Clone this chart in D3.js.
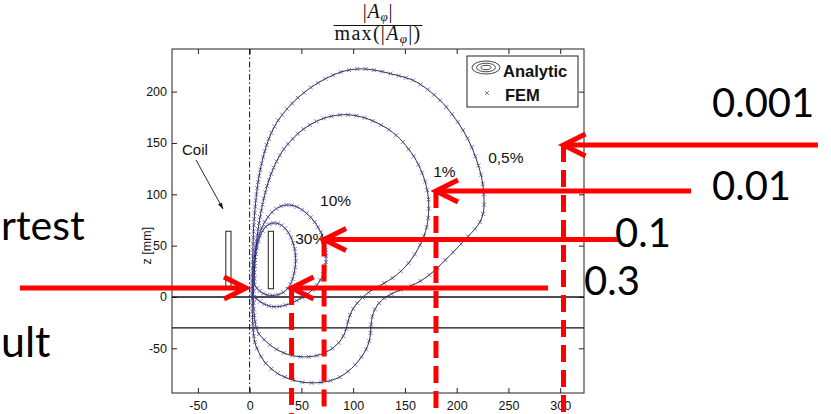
<!DOCTYPE html>
<html>
<head>
<meta charset="utf-8">
<script src="https://cdn.jsdelivr.net/npm/d3@7"></script>
<style>
  body { margin: 0; background: #fff; }
  svg { display: block; }
</style>
</head>
<body>
<svg id="fig" width="831" height="414"></svg>
<script>
// ---- data: contour points [r mm, z mm] of |A_phi| / max(|A_phi|) ----
// analytic contours and FEM nodes coincide, so each list feeds both
const level30 = [[4.8,12],[4.6,18],[4.6,24],[4.8,30],[5.2,36],[5.9,42],[6.9,48],[8.3,54],[10.2,59.5],[12.6,64.5],[15.6,68.5],[19.2,71],[23,72],[27,71.6],[30.8,69.8],[34.3,66.8],[37.4,62.8],[40,58],[42,52.6],[43.5,46.8],[44.3,40.8],[44.5,34.8],[44,28.8],[43,23],[41.5,17.5],[39.5,12.5],[36.5,8],[32.5,4.5],[27.5,2.3],[22,1.5],[17,2],[13,3.5],[9.6,5.8],[7,8.5]];
const level10 = [[2.8,2],[2.8,8],[3,14],[3.2,20],[3.5,26],[3.9,32],[4.5,38],[5.3,44],[6.4,50],[7.8,56],[9.6,62],[11.8,67.5],[14.5,73],[17.8,78],[21.5,82.5],[25.8,86],[30.5,88.5],[35.5,89.6],[40.5,89.3],[45.5,87.8],[50.5,85],[55,81.5],[59,77.5],[62.8,73],[66,68],[68.8,63],[71,57.5],[72.5,52],[73.5,46],[73.9,40],[73.7,34],[72.8,28],[71,22],[68.3,16.5],[64.8,11.5],[60.6,7],[56,3],[51,-0.5],[45.5,-3.5],[40,-6],[34.5,-8],[29,-9.2],[23.5,-9.5],[18.5,-8.6],[14,-6.8],[10,-4.5],[6.8,-2],[4.5,0]];
const level1 = [[9,-36],[6.5,-30],[5.2,-24],[4.5,-18],[4,-12],[3.8,-6],[3.7,0],[3.7,6],[3.8,12],[4,18],[4.3,24],[4.7,30],[5.1,36],[5.6,42],[6.1,48],[6.7,54],[7.4,60],[8.2,66],[9.1,72],[10.1,78],[11.2,84],[12.4,90],[13.7,96],[15.2,102],[16.8,108],[18.7,114],[20.8,120],[23.2,126],[26,132],[29.2,138],[33,144],[37,149],[41.5,154],[46.5,159],[52,163.5],[58,167.5],[64.5,171],[71.5,174],[79,176],[87,177.3],[95,177.5],[103,176.5],[111,174.5],[119,171.5],[127,167.5],[134.5,163],[141.5,157.5],[148,151],[153.5,144],[158.5,137],[163,129],[166.5,121],[169.5,112.5],[171.5,104],[172.8,95],[173,86],[172.5,77],[171,68],[168.5,59.5],[164.5,50.5],[159.5,41.5],[153.5,33],[146,25],[138,18.5],[130,13.5],[122,9],[115,4.5],[109,-0.5],[104,-6],[100,-11.5],[97,-17.5],[95,-24],[93.3,-31],[90.5,-38],[86,-44.5],[80,-50],[73,-54],[65,-57],[57,-58.2],[49,-58.2],[41,-57],[33,-54.5],[26,-51],[19.5,-46.5],[14,-41.5]];
const level05 = [[7,-50],[5,-44],[4,-38],[3.4,-32],[3,-26],[2.8,-20],[2.6,-14],[2.5,-8],[2.5,-2],[2.5,4],[2.5,10],[2.6,16],[2.6,22],[2.8,28],[2.9,34],[3,40],[3.2,46],[3.3,52],[3.5,58],[3.7,64],[4,70],[4.4,76],[4.9,82],[5.4,88],[6,94],[6.6,100],[7.3,106],[8.2,112],[9.2,118],[10.3,124],[11.6,130],[13,136],[14.6,142],[16.4,148],[18.5,154],[21,160],[24,166],[27.5,172],[31.5,177.5],[36,183],[41,188.5],[46.5,194],[52.5,199],[59,204],[66,208.5],[73,212.5],[80.5,216],[88,219],[96,221],[104,222],[112,222],[120,221],[128,219.5],[136,217.5],[144,215.5],[151,213.5],[158,211],[165,207],[172,202],[178,197],[184,191.5],[190,185],[195.5,178],[201,170.5],[206,162.5],[210.5,154.5],[214.5,146],[218,137],[221,128],[223.5,119],[225.2,110],[226.2,100],[226.5,90],[225.5,81],[222.5,73],[217.5,66],[211,59],[204,51.5],[196.5,43.5],[189,36],[181.5,28.5],[173.5,21.5],[165,15.5],[156,11],[146,7],[137,3],[130,-1],[125,-6],[121,-12],[118.5,-19],[117.3,-27],[116.8,-35],[115.5,-43],[112.5,-51],[108,-58.5],[102,-66],[95,-72.5],[87,-78],[78,-81.5],[69,-83.2],[60,-83.6],[51,-83],[42,-81],[34,-78],[27,-74.5],[21,-70],[15.5,-64.5],[11,-58]];

const levelNames = ["30%", "10%", "1%", "0,5%"];
const levelPts = [level30, level10, level1, level05];

// axis ticks
const xTicks = [-50, 0, 50, 100, 150, 200, 250, 300];
const yTicks = [-50, 0, 50, 100, 150, 200];

// geometry: coil cross-sections (r range, z range) and plate faces (z)
const coilR = [[-23, -18], [18, 23]];
const coilZ = [8, 64];
const plateZ = [0, -30];

// read-off levels: value, contour point hit (r, z), arrow tail r
const readLevels = ["0.3", "0.1", "0.01", "0.001"];
const readR = [40.5, 71.9, 180, 303.2];
const readZ = [8.8, 56, 103.2, 148];
const readTailR = [288.3, 355.9, 426.4, 549];

// ---- layout ----
const svg = d3.select("#fig");
const box = { l: 172, r: 584, t: 49, b: 393 };
const x = d3.scaleLinear().domain([-75, 323]).range([box.l, box.r]);
const y = d3.scaleLinear().domain([-93.5, 241.5]).range([box.b, box.t]);
const axisFont = "'Liberation Sans', Arial, sans-serif";
const slideFont = "Lato, 'Open Sans', sans-serif";

svg.append("rect").attr("width", 831).attr("height", 414).attr("fill", "#fff");

// plot frame
svg.append("rect")
  .attr("x", box.l).attr("y", box.t)
  .attr("width", box.r - box.l).attr("height", box.b - box.t)
  .attr("fill", "#fff").attr("stroke", "#222").attr("stroke-width", 1);

function styleAxis(g) {
  g.select(".domain").remove();
  g.selectAll(".tick line").attr("stroke", "#222").attr("stroke-width", 1);
  g.selectAll(".tick text").attr("fill", "#111")
    .style("font-family", axisFont).style("font-size", "12.5px");
}
const fmt = d => String(d);
svg.append("g").attr("transform", `translate(0,${box.b})`)
  .call(d3.axisBottom(x).tickValues(xTicks).tickSize(-5).tickPadding(8.5).tickFormat(fmt))
  .call(styleAxis);
svg.append("g").attr("transform", `translate(0,${box.t})`)
  .call(d3.axisTop(x).tickValues(xTicks).tickSize(-5).tickFormat(""))
  .call(styleAxis);
svg.append("g").attr("transform", `translate(${box.l},0)`)
  .call(d3.axisLeft(y).tickValues(yTicks).tickSize(-5).tickPadding(5).tickFormat(fmt))
  .call(styleAxis);
svg.append("g").attr("transform", `translate(${box.r},0)`)
  .call(d3.axisRight(y).tickValues(yTicks).tickSize(-5).tickFormat(""))
  .call(styleAxis);

// y axis title
svg.append("text")
  .attr("transform", `translate(151,${y(50)}) rotate(-90)`)
  .attr("text-anchor", "middle")
  .style("font-family", axisFont).style("font-size", "12.5px").attr("fill", "#111")
  .text("z [mm]");

// plate faces
svg.selectAll("line.plate").data(plateZ).join("line")
  .attr("class", "plate")
  .attr("x1", box.l).attr("x2", box.r)
  .attr("y1", d => y(d)).attr("y2", d => y(d))
  .attr("stroke", "#111").attr("stroke-width", 1.3);

// symmetry axis r = 0
svg.append("line")
  .attr("x1", x(0)).attr("x2", x(0)).attr("y1", box.t).attr("y2", box.b)
  .attr("stroke", "#111").attr("stroke-width", 1)
  .attr("stroke-dasharray", "6,2.5,1.5,2.5");

// coil cross-sections
svg.selectAll("rect.coil").data(coilR).join("rect")
  .attr("class", "coil")
  .attr("x", d => x(d[0])).attr("width", d => x(d[1]) - x(d[0]))
  .attr("y", y(coilZ[1])).attr("height", y(coilZ[0]) - y(coilZ[1]))
  .attr("fill", "#fff").attr("stroke", "#222").attr("stroke-width", 1);

// analytic contours
const contourLine = d3.line()
  .x(d => x(d[0])).y(d => y(d[1]))
  .curve(d3.curveCatmullRomClosed.alpha(0.5));
svg.selectAll("path.contour").data(levelPts).join("path")
  .attr("class", "contour")
  .attr("d", contourLine)
  .attr("fill", "none").attr("stroke", "#1a1a1a").attr("stroke-width", 0.9);

// FEM nodes
const xMark = "M-2,-2L2,2M-2,2L2,-2";
levelPts.forEach(pts => {
  svg.append("g").selectAll("path").data(pts).join("path")
    .attr("transform", d => `translate(${x(d[0])},${y(d[1])})`)
    .attr("d", xMark)
    .attr("fill", "none").attr("stroke", "#4646b4").attr("stroke-width", 0.75);
});

// contour level labels
const levelLabelAt = [[44, 51.6], [68, 88.6], [177.3, 117.1], [230.4, 130.7]];
svg.selectAll("text.lvl").data(levelNames).join("text")
  .attr("class", "lvl")
  .attr("x", (d, i) => x(levelLabelAt[i][0]))
  .attr("y", (d, i) => y(levelLabelAt[i][1]))
  .style("font-family", axisFont).style("font-size", "15.5px").attr("fill", "#111")
  .text(d => d);

// coil callout
svg.append("text")
  .attr("x", x(-65.3)).attr("y", y(138.3))
  .style("font-family", axisFont).style("font-size", "15px").attr("fill", "#111")
  .text("Coil");
const defs = svg.append("defs");
defs.append("marker").attr("id", "headBlack")
  .attr("viewBox", "0 0 10 10").attr("refX", 10).attr("refY", 5)
  .attr("markerWidth", 7).attr("markerHeight", 7).attr("orient", "auto")
  .append("path").attr("d", "M0,1.5L10,5L0,8.5Z").attr("fill", "#111");
svg.append("line")
  .attr("x1", x(-51.8)).attr("y1", y(133.4))
  .attr("x2", x(-25.7)).attr("y2", y(85.7))
  .attr("stroke", "#111").attr("stroke-width", 0.9)
  .attr("marker-end", "url(#headBlack)");

// legend
const lg = svg.append("g");
lg.append("rect").attr("x", 467).attr("y", 56).attr("width", 111).attr("height", 51)
  .attr("fill", "#fff").attr("stroke", "#222").attr("stroke-width", 1);
[[14, 6.5], [9.5, 4.3], [5, 2.2]].forEach(e => {
  lg.append("ellipse").attr("cx", 486).attr("cy", 67.5).attr("rx", e[0]).attr("ry", e[1])
    .attr("fill", "none").attr("stroke", "#333").attr("stroke-width", 0.9);
});
lg.append("path").attr("transform", "translate(487,93)").attr("d", xMark)
  .attr("fill", "none").attr("stroke", "#777").attr("stroke-width", 0.9);
lg.append("text").attr("x", 503).attr("y", 77)
  .style("font-family", axisFont).style("font-size", "16.5px").style("font-weight", "bold")
  .attr("fill", "#111").text("Analytic");
lg.append("text").attr("x", 505).attr("y", 101)
  .style("font-family", axisFont).style("font-size", "16.5px").style("font-weight", "bold")
  .attr("fill", "#111").text("FEM");

// title: |A_phi| / max(|A_phi|)
const serif = "'Liberation Serif', 'DejaVu Serif', serif";
const tg = svg.append("g").style("font-family", serif).attr("fill", "#111");
function mathA(t, parts) {
  parts.forEach(p => {
    const s = t.append("tspan").text(p.t);
    if (p.it) s.style("font-style", "italic");
    if (p.sub) s.attr("dy", 3).style("font-size", "13px").style("font-style", "italic");
    if (p.up) s.attr("dy", -3);
  });
}
const num = tg.append("text").attr("x", 378).attr("y", 18).attr("text-anchor", "middle")
  .style("font-size", "20px").style("letter-spacing", "0.8px");
mathA(num, [{ t: "|" }, { t: "A", it: true }, { t: "φ", sub: true }, { t: "|", up: true }]);
const den = tg.append("text").attr("x", 378).attr("y", 40).attr("text-anchor", "middle")
  .style("font-size", "20px").style("letter-spacing", "1.3px");
mathA(den, [{ t: "max(|" }, { t: "A", it: true }, { t: "φ", sub: true }, { t: "|)", up: true }]);
const dbb = den.node().getBBox();
tg.append("line").attr("x1", dbb.x - 1).attr("x2", dbb.x + dbb.width + 1)
  .attr("y1", 25.5).attr("y2", 25.5).attr("stroke", "#111").attr("stroke-width", 1);

// ---- red read-off annotations ----
const red = "#fe0000";
const ann = svg.append("g");
function chevron(tipX, tipY, dir) {
  ann.append("path")
    .attr("d", `M${tipX + dir * 22},${tipY - 11}L${tipX},${tipY}L${tipX + dir * 22},${tipY + 11}`)
    .attr("fill", "none").attr("stroke", red).attr("stroke-width", 5)
    .attr("stroke-linejoin", "miter");
}
readLevels.forEach((lv, i) => {
  const px = x(readR[i]), py = y(readZ[i]);
  ann.append("line").attr("x1", px).attr("x2", px).attr("y1", py).attr("y2", 414)
    .attr("stroke", red).attr("stroke-width", 5).attr("stroke-dasharray", "17,8");
  ann.append("line").attr("x1", px + 2).attr("x2", x(readTailR[i])).attr("y1", py).attr("y2", py)
    .attr("stroke", red).attr("stroke-width", 5);
  chevron(px, py, 1);
});
// pointer onto the axis from the left
ann.append("line").attr("x1", x(-222)).attr("x2", x(-3.5) - 2)
  .attr("y1", y(readZ[0])).attr("y2", y(readZ[0]))
  .attr("stroke", red).attr("stroke-width", 5);
chevron(x(-3.5), y(readZ[0]), -1);

// slide text
const slideText = [
  { t: "0.001", x: 712, y: 117, a: "start", s: 40 },
  { t: "0.01", x: 712, y: 200, a: "start", s: 40 },
  { t: "0.1", x: 615, y: 247, a: "start", s: 40 },
  { t: "0.3", x: 584, y: 295, a: "start", s: 40 },
  { t: "rtest", x: 1, y: 240, a: "start", s: 41 },
  { t: "ult", x: 1, y: 357, a: "start", s: 43 }
];
svg.selectAll("text.slide").data(slideText).join("text")
  .attr("class", "slide")
  .attr("x", d => d.x).attr("y", d => d.y).attr("text-anchor", d => d.a)
  .style("font-family", slideFont).style("font-size", d => d.s + "px")
  .attr("fill", "#000").text(d => d.t);
</script>
</body>
</html>
